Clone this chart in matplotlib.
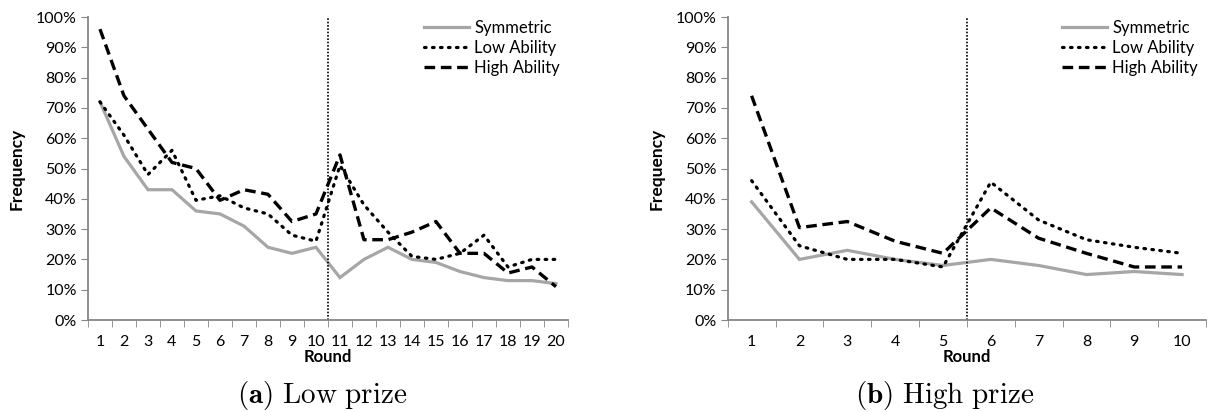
import numpy as np
import matplotlib
matplotlib.use("Agg")
import matplotlib.pyplot as plt
from matplotlib.ticker import PercentFormatter, FixedLocator

plt.rcParams["font.family"] = ["Lato", "DejaVu Sans"]
plt.rcParams["mathtext.fontset"] = "cm"

# ---- data (frequency in %) ----
rounds_low = list(range(1, 21))
sym_low = [72, 54, 43, 43, 36, 35, 31, 24, 22, 24, 14, 20, 24, 20, 19, 16, 14, 13, 13, 12]
lowab_low = [72, 61, 48, 56, 39.5, 41, 37, 35, 28, 26, 51, 38, 29, 21, 20, 22, 28, 17.5, 20, 20]
highab_low = [96, 74, 63, 52, 50, 39.5, 43, 41.5, 32.5, 35, 54.5, 26.5, 26.5, 29, 32.5, 22, 22, 15.5, 17.5, 11]

rounds_high = list(range(1, 11))
sym_high = [39, 20, 23, 20, 18, 20, 18, 15, 16, 15]
lowab_high = [46, 24.5, 20, 20, 17.5, 45.5, 33, 26.5, 24, 22]
highab_high = [74, 30.5, 32.5, 26, 22, 37, 27, 22, 17.5, 17.5]

captions = [r"$\mathbf{(a)}\ \mathrm{Low\ prize}$", r"$\mathbf{(b)}\ \mathrm{High\ prize}$"]

GRAY = "#a6a6a6"
AXC = "#868686"


def draw(ax, rounds, sym, lowab, highab, split):
    ax.plot(rounds, sym, color=GRAY, lw=2.3, label="Symmetric", solid_joinstyle="miter")
    ax.plot(rounds, lowab, color="black", lw=2.3, ls=(0, (0.5, 2.0)),
            dash_capstyle="round", label="Low Ability")
    ax.plot(rounds, highab, color="black", lw=2.4, ls=(0, (3.2, 1.7)), label="High Ability")
    ax.axvline(split, color="black", lw=1.2, ls=(0, (1, 1)))

    n = len(rounds)
    ax.set_xlim(0.5, n + 0.5)
    ax.set_ylim(0, 100)
    ax.set_xticks(rounds)
    ax.xaxis.set_minor_locator(FixedLocator(np.arange(0.5, n + 1, 1)))
    ax.tick_params(axis="x", which="major", length=0, pad=11, labelsize=11.5)
    ax.tick_params(axis="x", which="minor", length=5, color=AXC, direction="out")
    ax.set_yticks(range(0, 101, 10))
    ax.yaxis.set_major_formatter(PercentFormatter(decimals=0))
    ax.tick_params(axis="y", length=5, color=AXC, labelsize=11.5, pad=3)
    for s in ["top", "right"]:
        ax.spines[s].set_visible(False)
    for s in ["left", "bottom"]:
        ax.spines[s].set_color(AXC)
        ax.spines[s].set_linewidth(1.3)
    ax.set_xlabel("Round", fontweight="bold", fontsize=12, labelpad=0)
    ax.set_ylabel("Frequency", fontweight="bold", fontsize=12.5, labelpad=8)
    ax.legend(loc="upper right", bbox_to_anchor=(1.015, 1.04), frameon=False,
              fontsize=12, handlelength=2.7, handletextpad=0.3, labelspacing=0.25)


fig = plt.figure(figsize=(12.1, 4.12), dpi=100)
ax1 = fig.add_axes([0.0727, 0.2233, 0.3967, 0.7354])
ax2 = fig.add_axes([0.6014, 0.2233, 0.3953, 0.7354])

draw(ax1, rounds_low, sym_low, lowab_low, highab_low, 10.5)
draw(ax2, rounds_high, sym_high, lowab_high, highab_high, 5.5)

fig.text(0.266, 0.04, captions[0], ha="center", va="center", fontsize=21)
fig.text(0.781, 0.04, captions[1], ha="center", va="center", fontsize=21)

fig.savefig("out.png", dpi=100)
